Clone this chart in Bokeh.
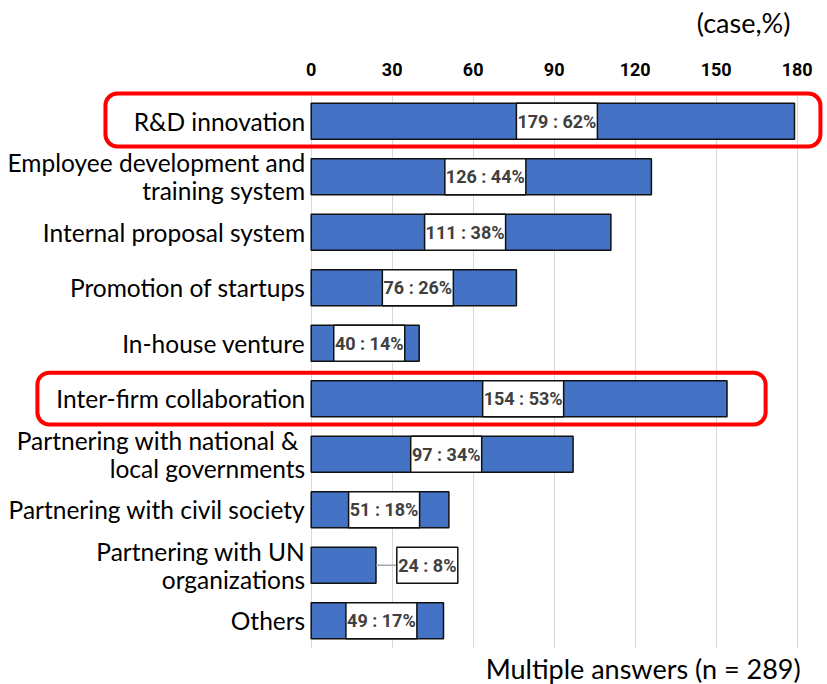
from bokeh.plotting import figure
from bokeh.models import Range1d, FixedTicker, ColumnDataSource, Label, BoxAnnotation
from bokeh.embed import file_html
from bokeh.resources import INLINE
from bokeh.core.properties import value

categories = [
    "R&D innovation",
    "Employee development and\ntraining system",
    "Internal proposal system",
    "Promotion of startups",
    "In-house venture",
    "Inter-firm collaboration",
    "Partnering with national  &\nlocal governments",
    "Partnering with civil society",
    "Partnering with UN\norganizations",
    "Others",
]
counts = [179, 126, 111, 76, 40, 154, 97, 51, 24, 49]
shares = [62, 44, 38, 26, 14, 53, 34, 18, 8, 17]
x_ticks = [0, 30, 60, 90, 120, 150, 180]
n_total = 289
highlighted = ["R&D innovation", "Inter-firm collaboration"]

N = len(categories)
ys = [N - i - 0.5 for i in range(N)]

NUM = "Roboto"
MAIN = "Lato"

# frame covers the whole canvas; axes are pinned inside it
p = figure(width=827, height=684, x_range=Range1d(-115.07, 191.22), y_range=Range1d(-0.6486, 11.676),
           x_axis_location="above", output_backend="svg", toolbar_location=None,
           min_border_left=0, min_border_right=0, min_border_top=0, min_border_bottom=0)
p.outline_line_color = None
p.background_fill_color = "white"
p.ygrid.visible = False

g = p.xgrid[0]
if "cross_bounds" in g.properties():
    g.ticker = FixedTicker(ticks=x_ticks)
    g.grid_line_color = "#d9d9d9"
    g.grid_line_width = 1
    g.cross_bounds = (0, N)
else:
    g.visible = False
    p.segment(x0=x_ticks, y0=[0] * len(x_ticks), x1=x_ticks, y1=[N] * len(x_ticks),
              line_color="#d9d9d9", line_width=1)

xa = p.xaxis[0]
xa.fixed_location = N
xa.ticker = FixedTicker(ticks=x_ticks)
xa.axis_line_color = None
xa.major_tick_line_color = None
xa.minor_tick_line_color = None
xa.major_label_text_font = NUM
xa.major_label_text_font_style = "bold"
xa.major_label_text_font_size = "18px"
xa.major_label_text_color = "black"
xa.major_label_standoff = 12

ya = p.yaxis[0]
ya.fixed_location = 0
ya.ticker = FixedTicker(ticks=ys)
ya.major_label_overrides = {y: c for y, c in zip(ys, categories)}
ya.axis_line_color = None
ya.major_tick_line_color = None
ya.minor_tick_line_color = None
ya.major_label_text_font = MAIN
ya.major_label_text_font_size = "24.5px"
ya.major_label_text_color = "black"
ya.major_label_text_line_height = 0.96
ya.major_label_standoff = 0

bar_h = 0.65
src = ColumnDataSource(dict(y=ys, v=counts))
p.hbar(y="y", left=0, right="v", height=bar_h, source=src,
       fill_color="#4472C4", line_color="#111111", line_width=1.5)

labels = [f"{c} : {s}%" for c, s in zip(counts, shares)]
cx, widths, lead_x0, lead_x1, lead_y = [], [], [], [], []
for c, t, y in zip(counts, labels, ys):
    w = 10 * len(t.replace(" ", "")) + 11
    widths.append(w)
    if c < 30:
        x = c + 19
        cx.append(x)
        lead_x0.append(c)
        lead_x1.append(x - (w / 2) / 2.7)
        lead_y.append(y)
    else:
        cx.append(c / 2 + 1.5)
lsrc = ColumnDataSource(dict(x=cx, y=ys, w=widths, t=labels))
p.segment(x0=lead_x0, y0=lead_y, x1=lead_x1, y1=lead_y, line_color="#a6a6a6", line_width=1.5)
p.rect(x="x", y="y", width="w", width_units="screen", height=bar_h, source=lsrc,
       fill_color="white", line_color="#111111", line_width=1.5)
p.text(x="x", y="y", text="t", source=lsrc, text_align="center", text_baseline="middle",
       text_font=value(NUM), text_font_style="bold", text_font_size="18px", text_color="#404040")

# highlight boxes
boxes = {
    "R&D innovation": (-76.2, 188.6, 10.0, 9.045),
    "Inter-firm collaboration": (-101.4, 168.3, 4.97, 4.036),
}
for name in highlighted:
    l, r, t, b = boxes[name]
    p.add_layout(BoxAnnotation(left=l, right=r, top=t, bottom=b, fill_alpha=0, fill_color=None,
                               line_color="#ff0000", line_alpha=1.0, line_width=4, border_radius=12))

p.add_layout(Label(x=177.5, y=11.28, text="(case,%)", text_align="right", text_baseline="middle",
                   text_font=MAIN, text_font_size="27px", text_color="black"))
p.add_layout(Label(x=181.3, y=-0.36, text=f"Multiple answers (n = {n_total})", text_align="right",
                   text_baseline="middle", text_font=MAIN, text_font_size="27px", text_color="black"))

open("out.html", "w").write(file_html(p, INLINE))
